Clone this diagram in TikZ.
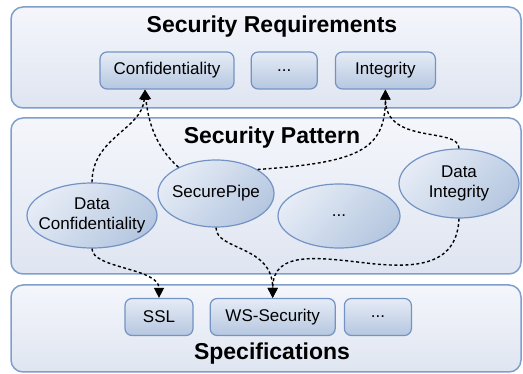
\documentclass[tikz,border=0pt]{standalone}
\usepackage{xcolor}
\usepackage{fontspec}
\setmainfont{Liberation Sans}
\usepackage{tikz}
\usetikzlibrary{arrows,arrows.meta,positioning,shapes.geometric}
\definecolor{layerline}{HTML}{7F9FCB}
\definecolor{layertop}{HTML}{F4F6FB}
\definecolor{layerbot}{HTML}{DFE5F1}
\definecolor{itemline}{HTML}{7393C4}
\definecolor{itemtop}{HTML}{E6ECF6}
\definecolor{itembot}{HTML}{B5C7E0}
\tikzset{
  every layer node/.style={
    draw=layerline,line width=1.5pt,rounded corners=12pt,
    top color=layertop,bottom color=layerbot,minimum width=510pt,
  },
}
\tikzset{
  every item node/.style={
    draw=itemline,line width=1.2pt,rounded corners=7pt,
    top color=itemtop,bottom color=itembot,minimum height=37pt,
    font=\fontsize{17}{20}\selectfont,
  },
  every patnode node/.style={
    ellipse,draw=itemline,line width=1.2pt,inner sep=0pt,inner xsep=-10pt,
    top color=itemtop,bottom color=itembot,shading angle=45,
    align=center,font=\fontsize{17}{20}\selectfont,
  },
  every layertitle node/.style={font=\fontsize{23}{26}\bfseries},
  link/.style={line width=1.4pt,dash pattern=on 3pt off 2.5pt,-{Triangle[length=10pt,width=10pt]}},
}

\begin{document}
\begin{tikzpicture}[x=1pt,y=-1pt]
			\useasboundingbox (0,0) rectangle (523,374);
			\node[every layer node,minimum height=101pt] (reqlayer) at (266,57.5) {};
			\node[every layer node,minimum height=156pt] (patlayer) at (266,196) {};
			\node[every layer node,minimum height=87pt] (speclayer) at (266,328.5) {};
			\node[every layertitle node] (reqtitle) at (272,27) {Security Requirements};
			\node[every layertitle node] (pattitle) at (272,138) {Security Pattern};
			\node[every layertitle node] (spectitle) at (272,354) {Specifications};
			\node[every item node,minimum width=134pt] (conf) at (167,70.5) {Confidentiality};
			\node[every item node,minimum width=66pt] (reqdots) [right=16pt of conf] {...};
			\node[every item node,minimum width=100pt] (integ) [right=17pt of reqdots] {Integrity};
			\node[every patnode node,minimum width=130pt,minimum height=65pt] (dconf) at (92,215.5) {Data\\Confidentiality};
			\node[every patnode node,minimum width=116pt,minimum height=67pt] (spipe) at (216,193.5) {SecurePipe};
			\node[every patnode node,minimum width=122pt,minimum height=64pt] (patdots) at (339,216) {...};
			\node[every patnode node,minimum width=120pt,minimum height=69pt] (dint) at (459,183.5) {Data\\Integrity};
			\node[every item node,minimum width=68pt] (ssl) at (159,317) {SSL};
			\node[every item node,minimum width=125pt] (ws) [right=16pt of ssl] {WS-Security};
			\node[every item node,minimum width=67pt] (specdots) [right=8pt of ws] {...};
			\coordinate (dintbend) at (375,264);
			\draw[link] (dconf.north) .. controls +(0,-45) and +(-3,40) .. ([xshift=-22pt]conf.south);
			\draw[link] (spipe.145) .. controls +(-23,-20) and +(3,31) .. ([xshift=-22pt]conf.south);
			\draw[link] (spipe.30) .. controls +(100,-7) and +(0,61) .. (integ.south);
			\draw[link] (dint.north) .. controls +(0,-22) and +(0,56) .. (integ.south);
			\draw[link] (dconf.south) .. controls +(0,20) and +(0,-30) .. (ssl.north);
			\draw[link] (spipe.south) .. controls +(0,23) and +(0,-53) .. (ws.north);
			\draw[link] (dint.south) .. controls +(-2,45) and +(45,4) .. (dintbend) .. controls +(-55,-6) and +(0,-49) .. (ws.north);
		\end{tikzpicture}
\end{document}
